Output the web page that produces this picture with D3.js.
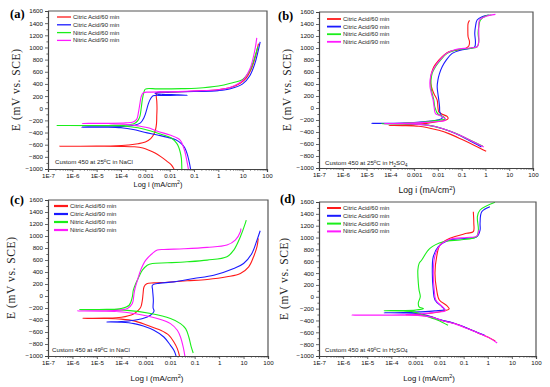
<!DOCTYPE html>
<html>
<head>
<meta charset="utf-8">
<script src="https://cdn.jsdelivr.net/npm/d3@7"></script>
<style>
body { margin: 0; background: #fff; }
svg { display: block; }
</style>
</head>
<body>
<svg id="chart" width="550" height="387"></svg>
<script>
// series names, shared by all four panels
var seriesNames = ["Citric Acid/60 min", "Citric Acid/90 min", "Nitric Acid/60 min", "Nitric Acid/90 min"];
var seriesColors = ["#ff1a1a", "#1a1aff", "#1aee1a", "#ff1aff"];

var xTickValues = [1e-7, 1e-6, 1e-5, 1e-4, 1e-3, 1e-2, 1e-1, 1, 10, 100];
var xTickLabels = ["1E-7", "1E-6", "1E-5", "1E-4", "0.001", "0.01", "0.1", "1", "10", "100"];
var yTickValues = [-1000, -800, -600, -400, -200, 0, 200, 400, 600, 800, 1000, 1200, 1400, 1600];

// each point is [log i (mA/cm2), E (mV vs SCE)]
// (a) 25C NaCl
var a_cit60 = [[-1.82,-1000],[-1.95,-925],[-2.12,-870],[-2.35,-800],[-2.6,-735],[-2.85,-690],[-3.1,-655],[-3.45,-635],[-4.0,-628],[-5.0,-626],[-6.52,-625],[-5.0,-624],[-4.2,-620],[-3.7,-605],[-3.3,-585],[-3.0,-555],[-2.78,-500],[-2.65,-430],[-2.58,-350],[-2.54,-250],[-2.53,-120],[-2.52,0],[-2.53,120],[-2.55,220],[-2.5,258],[-2.2,262],[-1.5,272],[-0.8,285],[0,305],[0.5,340],[0.9,410],[1.15,500],[1.35,640],[1.5,816],[1.65,1065]];
var a_cit90 = [[-1.14,-1000],[-1.2,-880],[-1.28,-750],[-1.38,-650],[-1.5,-590],[-1.75,-520],[-2.07,-480],[-2.5,-440],[-3.04,-395],[-3.5,-350],[-4.0,-322],[-4.6,-312],[-5.62,-310],[-4.6,-307],[-3.9,-298],[-3.45,-280],[-3.2,-240],[-3.05,-150],[-2.95,-30],[-2.87,80],[-2.78,160],[-2.68,205],[-2.3,210],[-1.7,213],[-1.27,215],[-1.7,222],[-2.3,228],[-2.6,245],[-2.5,262],[-2.0,266],[-1.0,275],[0,290],[0.5,320],[1.0,400],[1.3,540],[1.5,733],[1.72,1092]];
var a_nit60 = [[-1.5,-1000],[-1.52,-820],[-1.57,-716],[-1.64,-630],[-1.71,-578],[-1.92,-495],[-2.26,-441],[-2.81,-370],[-3.3,-322],[-3.8,-297],[-4.5,-288],[-6.63,-285],[-4.5,-283],[-3.8,-276],[-3.45,-250],[-3.3,-200],[-3.22,-130],[-3.17,0],[-3.12,150],[-3.06,260],[-3.0,315],[-2.5,318],[-1.5,322],[-0.9,330],[0,365],[0.5,410],[1,474],[1.2,560],[1.3,623],[1.45,780],[1.62,1009]];
var a_nit90 = [[-1.23,-1000],[-1.3,-853],[-1.37,-720],[-1.44,-634],[-1.57,-523],[-1.99,-441],[-2.5,-380],[-2.81,-330],[-3.3,-290],[-3.8,-263],[-4.5,-252],[-5.59,-250],[-4.5,-248],[-3.8,-240],[-3.5,-225],[-3.35,-180],[-3.28,-60],[-3.22,80],[-3.17,190],[-3.08,255],[-2.85,265],[-2,272],[-1,285],[0,305],[0.5,345],[1,457],[1.3,650],[1.5,954],[1.58,1158]];

// (b) 25C H2SO4
var b_cit60 = [[0.03,-722],[-0.42,-633],[-0.98,-527],[-1.54,-427],[-1.96,-371],[-2.38,-332],[-2.8,-304],[-3.5,-293],[-4.06,-290],[-3.5,-283],[-2.66,-265],[-2.1,-232],[-1.68,-205],[-1.57,-178],[-1.61,-140],[-1.82,-104],[-1.96,-65],[-2.0,19],[-2.03,130],[-2.17,241],[-2.27,353],[-2.31,464],[-2.27,576],[-2.17,687],[-1.96,798],[-1.75,882],[-1.54,937],[-1.19,965],[-0.84,993],[-0.7,1032],[-0.67,1104],[-0.73,1188],[-0.74,1299],[-0.73,1411],[-0.67,1460]];
var b_cit90 = [[-0.17,-650],[-0.7,-538],[-1.26,-427],[-1.82,-343],[-2.38,-287],[-2.94,-265],[-3.5,-258],[-4.79,-256],[-3.5,-252],[-2.52,-225],[-1.96,-195],[-1.82,-170],[-1.85,-130],[-1.92,-65],[-1.93,19],[-1.96,130],[-2.0,241],[-2.03,353],[-2.0,464],[-1.93,576],[-1.82,687],[-1.65,798],[-1.4,910],[-1.05,965],[-0.63,993],[-0.45,1021],[-0.42,1104],[-0.45,1244],[-0.42,1355],[-0.35,1466],[-0.14,1522],[0.14,1550]];
var b_nit60 = [[-0.11,-638],[-0.65,-535],[-1.2,-430],[-1.8,-345],[-2.4,-290],[-3.0,-270],[-3.6,-265],[-4.37,-263],[-3.6,-258],[-2.6,-235],[-2.0,-205],[-1.7,-185],[-1.75,-150],[-2.0,-100],[-2.13,19],[-2.17,130],[-2.24,241],[-2.29,353],[-2.29,464],[-2.24,576],[-2.1,687],[-1.89,798],[-1.61,910],[-1.26,965],[-0.7,993],[-0.35,1021],[-0.28,1104],[-0.31,1244],[-0.28,1355],[-0.21,1466],[0.0,1533],[0.25,1550]];
var b_nit90 = [[-0.07,-650],[-0.6,-545],[-1.15,-440],[-1.75,-350],[-2.35,-292],[-2.9,-268],[-3.5,-262],[-4.27,-260],[-3.5,-255],[-2.5,-240],[-1.9,-222],[-1.68,-205],[-1.72,-170],[-1.95,-120],[-2.1,-93],[-2.16,19],[-2.2,130],[-2.27,241],[-2.33,353],[-2.33,464],[-2.27,576],[-2.13,687],[-1.92,798],[-1.64,910],[-1.26,975],[-0.7,1000],[-0.35,1021],[-0.28,1104],[-0.28,1244],[-0.28,1355],[-0.25,1466],[0.07,1533],[0.42,1561]];

// (c) 49C NaCl
var c_cit60 = [[-1.62,-1000],[-1.71,-877],[-1.85,-766],[-2.05,-655],[-2.39,-571],[-2.94,-488],[-3.48,-415],[-4.0,-385],[-4.7,-374],[-5.59,-372],[-4.7,-369],[-4.0,-355],[-3.5,-300],[-3.3,-237],[-3.2,-181],[-3.14,-70],[-3.11,41],[-3.07,153],[-2.96,205],[-2.67,218],[-2.12,230],[-1.31,253],[-0.49,275],[0.32,320],[0.87,375],[1.21,486],[1.41,654],[1.55,821],[1.6,960]];
var c_cit90 = [[-1.76,-1000],[-1.85,-905],[-1.99,-822],[-2.26,-683],[-2.67,-571],[-3.1,-500],[-3.48,-460],[-4.0,-438],[-4.6,-432],[-4.0,-425],[-3.48,-404],[-2.94,-349],[-2.73,-293],[-2.66,-250],[-2.7,-200],[-2.69,-70],[-2.72,97],[-2.73,180],[-2.53,208],[-1.85,236],[-1.04,292],[-0.22,347],[0.6,459],[1.0,542],[1.34,709],[1.55,932],[1.68,1088]];
var c_nit60 = [[-1.06,-950],[-1.14,-849],[-1.24,-683],[-1.37,-543],[-1.58,-460],[-1.99,-376],[-2.8,-293],[-3.75,-240],[-4.6,-228],[-5.72,-226],[-4.6,-222],[-4.02,-209],[-3.68,-154],[-3.55,-15],[-3.51,97],[-3.41,208],[-3.28,320],[-3.14,431],[-2.94,514],[-2.73,542],[-2.12,553],[-1.31,570],[-0.49,598],[0.32,654],[0.6,765],[0.87,988],[1.07,1210],[1.11,1266]];
var c_nit90 = [[-1.4,-1000],[-1.47,-849],[-1.58,-683],[-1.71,-571],[-1.99,-460],[-2.53,-376],[-3.48,-293],[-4.2,-258],[-4.8,-252],[-5.79,-250],[-4.8,-247],[-4.2,-240],[-3.75,-209],[-3.55,-126],[-3.48,41],[-3.44,125],[-3.34,264],[-3.21,431],[-3.0,598],[-2.73,709],[-2.53,765],[-2.26,776],[-1.44,787],[-0.49,810],[0.32,849],[0.66,932],[0.87,1071],[0.89,1127]];

// (d) 49C H2SO4
var d_cit60 = [[0.31,-746],[0.0,-678],[-0.41,-610],[-0.83,-536],[-1.38,-452],[-1.93,-395],[-2.35,-340],[-2.8,-310],[-3.4,-302],[-2.8,-295],[-2.3,-275],[-1.9,-245],[-1.6,-205],[-1.7,-150],[-2.01,-54],[-2.12,115],[-2.19,396],[-2.12,677],[-1.98,874],[-1.57,987],[-0.87,1072],[-0.6,1099],[-0.58,1250],[-0.6,1436]];
var d_cit90 = [[-0.13,-650],[-0.45,-600],[-0.85,-530],[-1.4,-448],[-1.95,-390],[-2.4,-330],[-2.9,-285],[-3.5,-272],[-4.3,-270],[-3.5,-266],[-2.8,-255],[-2.2,-238],[-1.8,-214],[-1.9,-170],[-2.19,-54],[-2.26,115],[-2.3,396],[-2.26,677],[-2.05,846],[-1.57,959],[-0.87,987],[-0.46,1014],[-0.32,1127],[-0.32,1240],[-0.25,1436],[0.09,1521]];
var d_nit60 = [[-1.65,-480],[-2.07,-395],[-2.48,-339],[-2.76,-294],[-3.1,-255],[-3.6,-240],[-4.3,-236],[-3.6,-232],[-3.0,-225],[-2.67,-200],[-2.85,-170],[-2.88,-100],[-2.8,0],[-2.85,113],[-2.88,228],[-2.9,452],[-2.85,560],[-2.74,621],[-2.4,818],[-1.84,930],[-1.15,959],[-0.6,990],[-0.46,1014],[-0.39,1127],[-0.43,1352],[-0.32,1465],[0.3,1595]];
var d_nit90 = [[0.39,-780],[0.05,-690],[-0.35,-620],[-0.8,-545],[-1.35,-458],[-1.9,-400],[-2.3,-345],[-2.8,-318],[-3.6,-312],[-5.64,-310],[-3.6,-306],[-2.8,-290],[-2.2,-262],[-1.75,-237],[-1.85,-180],[-2.15,-60],[-2.22,115],[-2.26,396],[-2.2,677],[-2.0,860],[-1.57,970],[-0.87,1000],[-0.46,1025],[-0.36,1130]];

var svg = d3.select("#chart");

// layout of the four panels
var panels = [
  {id:"a", series:[a_cit60,a_cit90,a_nit60,a_nit90], temp:"25", medium:"NaCl",
   l:48, t:11, r:267, b:169, labelX:10, labelY:18, yTitleX:16, xTitleX:158, xTitleY:187, xTitleSize:7.4,
   legX:57, legY:17, legStep:7.8, legW:1.3, noteX:55, noteY:164},
  {id:"b", series:[b_cit60,b_cit90,b_nit60,b_nit90], temp:"25", medium:"H2SO4",
   l:319, t:12, r:533, b:168, labelX:278, labelY:20, yTitleX:287, xTitleX:427, xTitleY:193, xTitleSize:8.6,
   legX:327, legY:19, legStep:7.6, legW:1.8, noteX:325, noteY:165},
  {id:"c", series:[c_cit60,c_cit90,c_nit60,c_nit90], temp:"49", medium:"NaCl",
   l:48, t:200, r:268, b:356, labelX:10, labelY:204, yTitleX:11, xTitleX:157, xTitleY:381, xTitleSize:8,
   legX:54, legY:206, legStep:8, legW:2.2, noteX:52, noteY:351.5},
  {id:"d", series:[d_cit60,d_cit90,d_nit60,d_nit90], temp:"49", medium:"H2SO4",
   l:319, t:202, r:536, b:356, labelX:280, labelY:203, yTitleX:284, xTitleX:429, xTitleY:381, xTitleSize:7.8,
   legX:327, legY:208, legStep:7.8, legW:2, noteX:325, noteY:351.5}
];

var minorX = [];
xTickValues.slice(0, -1).forEach(function(v){
  for (var k = 2; k <= 9; k++) minorX.push(v * k);
});
var minorY = yTickValues.slice(0, -1).map(function(v){ return v + 100; });

panels.forEach(function(p){
  var x = d3.scaleLog().domain([1e-7, 100]).range([p.l, p.r]);
  var y = d3.scaleLinear().domain([-1000, 1600]).range([p.b, p.t]);
  var g = svg.append("g");

  g.append("clipPath").attr("id", "clip-" + p.id)
    .append("rect").attr("x", p.l).attr("y", p.t).attr("width", p.r - p.l).attr("height", p.b - p.t);

  // curves
  var line = d3.line()
    .x(function(d){ return x(Math.pow(10, d[0])); })
    .y(function(d){ return y(d[1]); })
    .curve(d3.curveCatmullRom.alpha(0.5));

  g.append("g").attr("clip-path", "url(#clip-" + p.id + ")")
    .selectAll("path").data(p.series).enter().append("path")
      .attr("fill", "none")
      .attr("stroke", function(d,i){ return seriesColors[i]; })
      .attr("stroke-width", 1.1)
      .attr("d", line);

  // frame (top / right)
  g.append("path").attr("fill", "none").attr("stroke", "#555").attr("stroke-width", 1.2)
    .attr("d", "M" + p.l + "," + p.t + "H" + p.r + "V" + p.b);

  // bottom axis
  g.append("g").attr("transform", "translate(0," + p.b + ")")
    .call(d3.axisBottom(x).tickValues(xTickValues).tickSize(3).tickPadding(1.5)
      .tickFormat(function(d,i){ return xTickLabels[i]; }));
  g.append("g").attr("transform", "translate(0," + p.b + ")")
    .call(d3.axisBottom(x).tickValues(minorX).tickSize(1.6).tickFormat(""))
    .call(function(s){ s.select(".domain").remove(); });

  // left axis
  g.append("g").attr("transform", "translate(" + p.l + ",0)")
    .call(d3.axisLeft(y).tickValues(yTickValues).tickSize(3).tickPadding(2).tickFormat(d3.format("d")));
  g.append("g").attr("transform", "translate(" + p.l + ",0)")
    .call(d3.axisLeft(y).tickValues(minorY).tickSize(1.6).tickFormat(""))
    .call(function(s){ s.select(".domain").remove(); });

  g.selectAll(".domain").attr("stroke", "#444").attr("stroke-width", 1.2);
  g.selectAll(".tick line").attr("stroke", "#444").attr("stroke-width", 0.8);
  g.selectAll(".tick text").attr("font-family", "Liberation Sans, Arial, sans-serif")
    .attr("font-size", 6.2).attr("fill", "#111");

  // titles
  var xt = g.append("text").attr("x", p.xTitleX).attr("y", p.xTitleY)
    .attr("text-anchor", "middle").attr("font-family", "Liberation Sans, Arial, sans-serif")
    .attr("font-size", p.xTitleSize).attr("fill", "#111");
  xt.append("tspan").text("Log i (mA/cm");
  xt.append("tspan").attr("dy", -p.xTitleSize * 0.4).attr("font-size", p.xTitleSize * 0.7).text("2");
  xt.append("tspan").attr("dy", p.xTitleSize * 0.4).text(")");

  g.append("text")
    .attr("transform", "translate(" + p.yTitleX + "," + ((p.t + p.b) / 2) + ") rotate(-90)")
    .attr("text-anchor", "middle").attr("dominant-baseline", "central")
    .attr("font-family", "Liberation Serif, Times New Roman, serif")
    .attr("font-size", 11.5).attr("fill", "#222")
    .attr("textLength", 82).attr("lengthAdjust", "spacing")
    .text("E (mV vs. SCE)");

  g.append("text").attr("x", p.labelX).attr("y", p.labelY)
    .attr("font-family", "Liberation Serif, Times New Roman, serif")
    .attr("font-weight", "bold").attr("font-size", 12.5).attr("fill", "#000")
    .text("(" + p.id + ")");

  // legend
  var leg = g.selectAll(".leg").data(seriesNames).enter().append("g")
    .attr("transform", function(d,i){ return "translate(" + p.legX + "," + (p.legY + i * p.legStep) + ")"; });
  leg.append("line").attr("x1", 0).attr("x2", 14).attr("y1", 0).attr("y2", 0)
    .attr("stroke", function(d,i){ return seriesColors[i]; }).attr("stroke-width", p.legW);
  leg.append("text").attr("x", 16).attr("y", 0).attr("dominant-baseline", "central")
    .attr("font-family", "Liberation Sans, Arial, sans-serif").attr("font-size", 6)
    .attr("fill", "#222").text(function(d){ return d; });

  // note
  var nt = g.append("text").attr("x", p.noteX).attr("y", p.noteY)
    .attr("font-family", "Liberation Sans, Arial, sans-serif").attr("font-size", 6.2).attr("fill", "#222");
  nt.append("tspan").text("Custom 450 at " + p.temp);
  nt.append("tspan").attr("dy", -2).attr("font-size", 4.5).text("o");
  if (p.medium === "NaCl") {
    nt.append("tspan").attr("dy", 2).text("C in NaCl");
  } else {
    nt.append("tspan").attr("dy", 2).text("C in H");
    nt.append("tspan").attr("dy", 1.5).attr("font-size", 4.5).text("2");
    nt.append("tspan").attr("dy", -1.5).text("SO");
    nt.append("tspan").attr("dy", 1.5).attr("font-size", 4.5).text("4");
  }
});
</script>
</body>
</html>
